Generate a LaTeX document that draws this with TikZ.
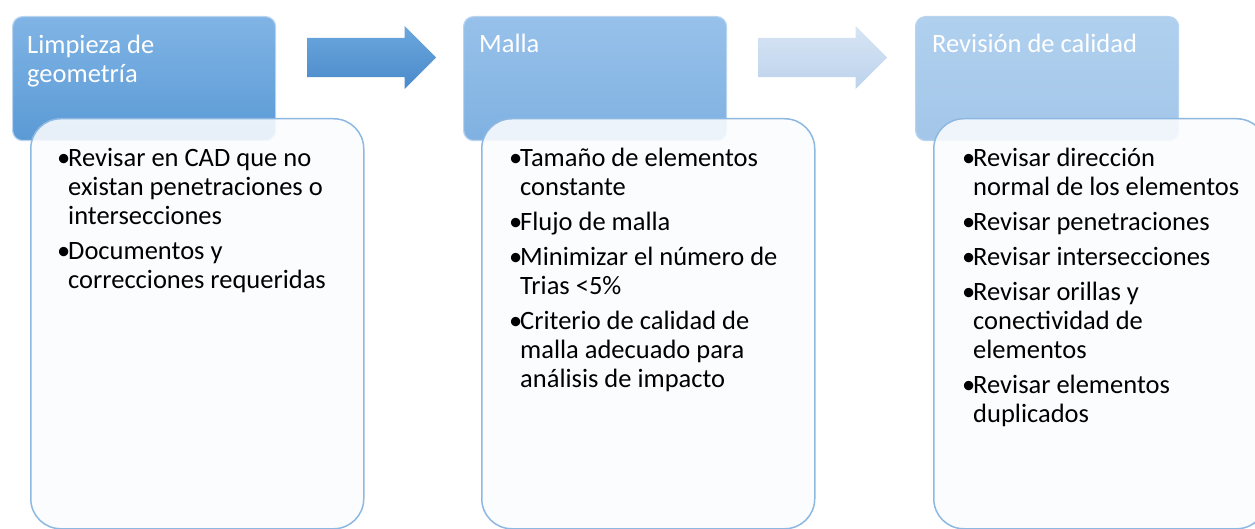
\documentclass[tikz,border=0pt]{standalone}
\usepackage{fontspec}
\setmainfont{Carlito}
\usetikzlibrary{shapes.arrows}
\definecolor{hOneTop}{HTML}{80B4E5}
\definecolor{hOneBot}{HTML}{5A9AD5}
\definecolor{hTwoTop}{HTML}{97C1EA}
\definecolor{hTwoBot}{HTML}{7FB1E1}
\definecolor{hThrTop}{HTML}{B0D0EE}
\definecolor{hThrBot}{HTML}{A3C6E9}
\definecolor{hEdge}{HTML}{B8D4F0}
\definecolor{arOneTop}{HTML}{6CA7DD}
\definecolor{arOneBot}{HTML}{4A8ACB}
\definecolor{arTwoTop}{HTML}{D7E5F4}
\definecolor{arTwoBot}{HTML}{BCD2EC}
\definecolor{bodyFill}{HTML}{FBFCFE}
\definecolor{bodyEdge}{HTML}{8DB8E2}
\newcommand\bitem[1]{\par\hangindent=11pt\hangafter=1\noindent\makebox[11pt][l]{\textbullet}#1\par}
\newcommand\bodytext[1]{\parbox[t]{300pt}{\raggedright\let\\\newline\setlength{\parskip}{6pt}\fontsize{26.5}{29}\selectfont #1}}
\newcommand\headtext[1]{\parbox[t]{250pt}{\raggedright\fontsize{26.5}{29}\selectfont #1}}
\tikzset{
  headbox/.style={draw=hEdge, line width=1.2pt, rounded corners=10pt, minimum width=263pt, minimum height=124pt, anchor=north west, inner sep=0pt},
  bodybox/.style={draw=bodyEdge, line width=1.5pt, fill=bodyFill, fill opacity=0.88, rounded corners=30pt, minimum width=333pt, minimum height=410pt, anchor=north west, inner sep=0pt},
  bodylabel/.style={anchor=base west, inner sep=0pt, text=black},
  headlabel/.style={anchor=base west, inner sep=0pt, text=white},
  flowarrow/.style={single arrow, single arrow head extend=12pt, minimum height=129pt, inner xsep=0pt, inner ysep=19.5pt, anchor=tail, draw=none}
}
\begin{document}
\begin{tikzpicture}[x=1pt,y=-1pt]
\useasboundingbox (0,0) rectangle (1255,529);
\begin{scope}
\clip (0,0) rectangle (1255,529);
% arrows
\node[flowarrow, top color=arOneTop, bottom color=arOneBot] (a1) at (307,57.5) {};
\node[flowarrow, top color=arTwoTop, bottom color=arTwoBot] (a2) at (758,57.5) {};
% header boxes
\node[headbox, top color=hOneTop, bottom color=hOneBot] (h1) at (12,16) {};
\node[headbox, top color=hTwoTop, bottom color=hTwoBot] (h2) at (463,16) {};
\node[headbox, top color=hThrTop, bottom color=hThrBot] (h3) at (915,16) {};
% body boxes
\node[bodybox] (b1) at (30,118) {};
\node[bodybox] (b2) at (481,118) {};
\node[bodybox] (b3) at (933,118) {};
% header labels
\node[headlabel] (l1) at (27,54) {\headtext{Limpieza de\\geometría}};
\node[headlabel] (l2) at (479,53) {\headtext{Malla}};
\node[headlabel] (l3) at (932,53) {\headtext{Revisión de calidad}};
% body labels
\node[bodylabel] (t1) at (57,167) {\bodytext{%
\bitem{Revisar en CAD que no\\existan penetraciones o\\intersecciones}%
\bitem{Documentos y\\correcciones requeridas}}};
\node[bodylabel] (t2) at (509,167) {\bodytext{%
\bitem{Tamaño de elementos\\constante}%
\bitem{Flujo de malla}%
\bitem{Minimizar el número de\\Trias <5\%}%
\bitem{Criterio de calidad de\\malla adecuado para\\análisis de impacto}}};
\node[bodylabel] (t3) at (962,167) {\bodytext{%
\bitem{Revisar dirección\\normal de los elementos}%
\bitem{Revisar penetraciones}%
\bitem{Revisar intersecciones}%
\bitem{Revisar orillas y\\conectividad de\\elementos}%
\bitem{Revisar elementos\\duplicados}}};
\end{scope}
\end{tikzpicture}
\end{document}
